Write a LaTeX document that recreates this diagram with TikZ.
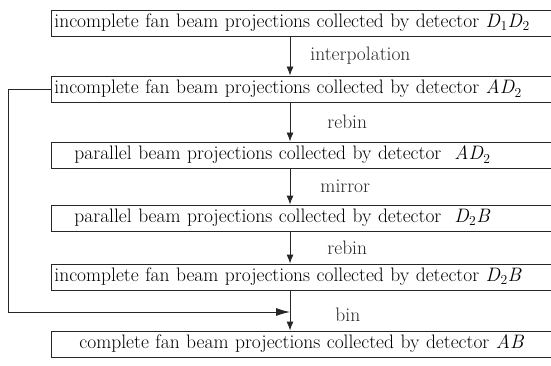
\documentclass[tikz,border=0pt]{standalone}
\usetikzlibrary{arrows.meta, positioning}
\newcommand{\detr}[2]{\textit{#1}\textsubscript{#2}}

\begin{document}
\begin{tikzpicture}[
      x=1pt, y=-1pt,
      font=\fontsize{19.5}{23}\selectfont,
      box/.style={draw=black!85, line width=0.9pt, anchor=west,
                  text width=500pt, inner xsep=3pt, inner ysep=0pt,
                  minimum height=26pt, align=left},
      lbl/.style={inner sep=0pt},
      arrow/.style={-{Latex[length=9pt, width=7pt]}, line width=0.9pt, black!85},
      fbarrow/.style={-{Latex[length=14pt, width=8pt]}, line width=0.9pt, black!85} ]

    \useasboundingbox (0,0) rectangle (551,366);
    \clip (0,0) rectangle (551,366);

    \node[box] (b1) at (51,23)
      {incomplete fan beam projections collected by detector \detr{D}{1}\detr{D}{2}};
    \node[box] (b2) at (51,89)
      {incomplete fan beam projections collected by detector \textit{A}\detr{D}{2}};
    \node[box] (b3) at (51,155)
      {\hspace*{20pt}parallel beam projections collected by detector \ \textit{A}\detr{D}{2}};
    \node[box] (b4) at (51,218)
      {\hspace*{20pt}parallel beam projections collected by detector \ \detr{D}{2}\textit{B}};
    \node[box] (b5) at (51,277)
      {incomplete fan beam projections collected by detector \detr{D}{2}\textit{B}};
    \node[box] (b6) at (51,344)
      {\hspace*{25pt}complete fan beam projections collected by detector \textit{AB}};

    % vertical flow line and the joint of the feedback path
    \coordinate (ax) at (290,0);
    \coordinate (fb) at (290,312);

    \draw[arrow] (b1.south -| ax) -- node[lbl, right=20pt] {interpolation} (b2.north -| ax);
    \draw[arrow] (b2.south -| ax) -- node[lbl, right=37pt] {rebin} (b3.north -| ax);
    \draw[arrow] (b3.south -| ax) -- node[lbl, right=30pt] {mirror} (b4.north -| ax);
    \draw[arrow] (b4.south -| ax) -- node[lbl, right=37pt] {rebin} (b5.north -| ax);
    \draw[arrow] (b5.south -| ax) -- node[lbl, right=45pt, yshift=-4pt] {bin} (b6.north -| ax);

    \draw[fbarrow] (b2.west) -- ++(-43,0) |- (fb);
  \end{tikzpicture}
\end{document}
